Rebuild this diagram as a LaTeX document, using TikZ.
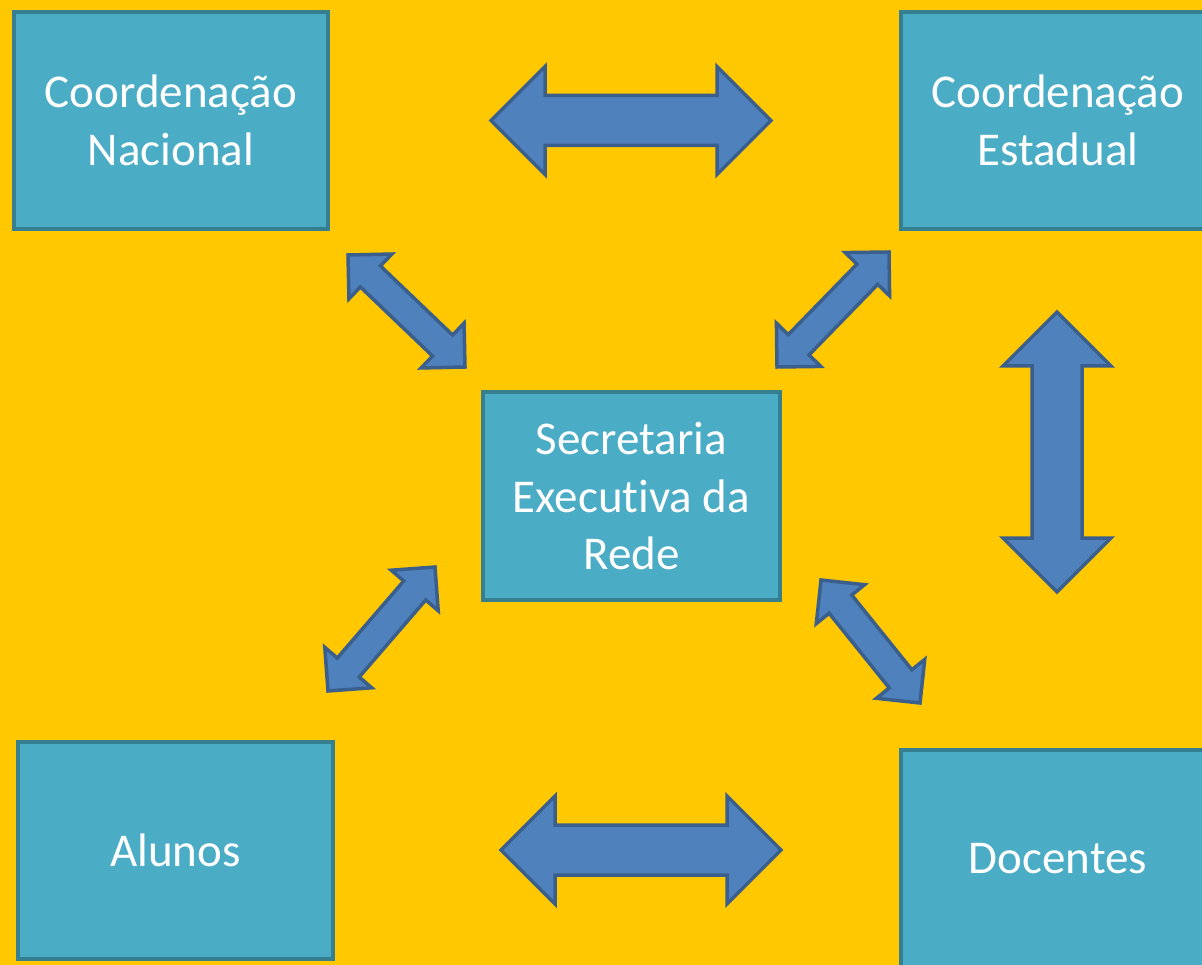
\documentclass[tikz,border=0pt]{standalone}
\usepackage{fontspec}
\setmainfont{Carlito}[Ligatures=NoCommon]
\usetikzlibrary{calc}
\definecolor{bg}{HTML}{FFC800}
\definecolor{boxfill}{HTML}{4BACC6}
\definecolor{boxline}{HTML}{357F91}
\definecolor{arrfill}{HTML}{4F81BD}
\definecolor{arrline}{HTML}{3A5F8C}
\tikzset{
  boxstyle/.style={draw=boxline, fill=boxfill, line width=4.5pt, text=white,
    font=\fontsize{47}{57.5}\selectfont, align=center, inner sep=0pt},
  arrowstyle/.style={draw=arrline, fill=arrfill, line width=3.5pt, line join=miter}
}
% #1 tip A, #2 tip B, #3 half head width, #4 half shaft width
\newcommand\blockarrow[4]{%
  \coordinate (#1-p) at ($(#1)!#3!(#2)$);
  \coordinate (#2-p) at ($(#2)!#3!(#1)$);
  \draw[arrowstyle] (#1) -- ($(#1-p)!#3!90:(#2)$) -- ($(#1-p)!#4!90:(#2)$)
    -- ($(#2-p)!#4!-90:(#1)$) -- ($(#2-p)!#3!-90:(#1)$) -- (#2)
    -- ($(#2-p)!#3!90:(#1)$) -- ($(#2-p)!#4!90:(#1)$)
    -- ($(#1-p)!#4!-90:(#2)$) -- ($(#1-p)!#3!-90:(#2)$) -- cycle;
}
\begin{document}
\begin{tikzpicture}[x=1pt,y=-1pt]
\useasboundingbox (0,0) rectangle (1202,965);
\clip (0,0) rectangle (1202,965);
\fill[bg] (0,0) rectangle (1202,965);

% boxes
\node[boxstyle, minimum width=314pt, minimum height=217pt] (cn) at (171,120.5) {Coordenação\\Nacional};
\node[boxstyle, minimum width=314pt, minimum height=217pt] (ce) at (1058,120.5) {Coordenação\\Estadual};
\node[boxstyle, minimum width=297pt, minimum height=208pt] (ser) at (631.5,496) {Secretaria\\Executiva da\\Rede};
\node[boxstyle, minimum width=315pt, minimum height=217pt] (al) at (175.5,850.5) {Alunos};
\node[boxstyle, minimum width=314pt, minimum height=217pt] (do) at (1058,858.5) {Docentes};

% arrow tips
\coordinate (h1a) at (491,120.5);  \coordinate (h1b) at (771,120.5);
\coordinate (h2a) at (501,850);    \coordinate (h2b) at (781,850);
\coordinate (v1a) at (1057,312);   \coordinate (v1b) at (1057,592);
\coordinate (d1a) at (348,255);    \coordinate (d1b) at (465,367);
\coordinate (d2a) at (889,252);    \coordinate (d2b) at (777,367);
\coordinate (d3a) at (821,580);    \coordinate (d3b) at (920,703);
\coordinate (d4a) at (435,567);    \coordinate (d4b) at (328,691);

\blockarrow{h1a}{h1b}{54pt}{25pt}
\blockarrow{h2a}{h2b}{54pt}{25pt}
\blockarrow{v1a}{v1b}{54pt}{25pt}
\blockarrow{d1a}{d1b}{31pt}{14.5pt}
\blockarrow{d2a}{d2b}{31pt}{14.5pt}
\blockarrow{d3a}{d3b}{31pt}{14.5pt}
\blockarrow{d4a}{d4b}{31pt}{14.5pt}
\end{tikzpicture}
\end{document}
